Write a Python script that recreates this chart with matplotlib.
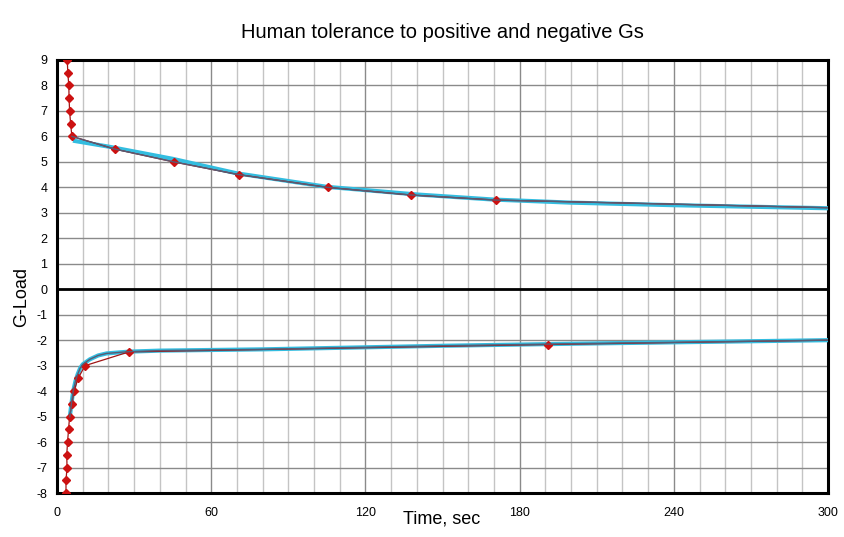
import numpy as np
import matplotlib
matplotlib.use('Agg')
import matplotlib.pyplot as plt
from matplotlib.ticker import MultipleLocator

plt.rcParams['font.family'] = ['Liberation Sans', 'DejaVu Sans']
plt.rcParams['axes.unicode_minus'] = False

# measured tolerance points (time in sec, G-load)
pos_t = [4.0, 4.2, 4.6, 4.7, 4.9, 5.3, 5.8, 22.6, 45.4, 70.7, 105.3, 137.6, 171.0, 300.0]
pos_g = [9.0, 8.5, 8.0, 7.5, 7.0, 6.5, 6.0, 5.5, 5.0, 4.5, 4.0, 3.7, 3.5, 3.2]
neg_t = [3.5, 3.5, 3.9, 3.8, 4.1, 4.5, 4.9, 5.8, 6.6, 8.2, 10.9, 28.0, 191.0, 300.0]
neg_g = [-8.0, -7.5, -7.0, -6.5, -6.0, -5.5, -5.0, -4.5, -4.0, -3.5, -3.0, -2.46, -2.17, -2.0]

# fitted curves (cyan)
fit_pos_t = [7, 20, 45, 70, 105, 140, 170, 200, 240, 300]
fit_pos_g = [5.82, 5.6, 5.12, 4.55, 4.02, 3.72, 3.52, 3.4, 3.3, 3.18]
fit_neg_t = [5, 5.6, 6.3, 7.2, 8.0, 9.0, 10.0, 12.8, 16, 19.3, 28, 40, 80, 150, 200, 250, 300]
fit_neg_g = [-5.0, -4.5, -4.0, -3.6, -3.35, -3.1, -2.95, -2.75, -2.6, -2.52, -2.45, -2.41, -2.36, -2.22, -2.14, -2.07, -2.0]

fig = plt.figure(figsize=(8.44, 5.37), dpi=100)
ax = fig.add_axes([57/844, 1-493/537, (828-57)/844, (493-60)/537])

red = '#cc1111'
ax.plot(fit_pos_t, fit_pos_g, color='#33bde0', lw=3, zorder=3)
ax.plot(fit_neg_t, fit_neg_g, color='#33bde0', lw=3, zorder=3)
ax.plot(pos_t, pos_g, color='#a01515', lw=0.9, marker='D', ms=3.6, mfc=red, mec=red,
        markevery=list(range(len(pos_t)-1)), zorder=4)
ax.plot(neg_t, neg_g, color='#a01515', lw=0.9, marker='D', ms=3.6, mfc=red, mec=red,
        markevery=list(range(len(neg_t)-1)), zorder=4)
ax.plot(pos_t[6:], pos_g[6:], color='#5a5a72', lw=1, zorder=4)
ax.plot(fit_neg_t, fit_neg_g, color='#5a5a72', lw=1, zorder=4)

ax.set_xlim(0, 300)
ax.set_ylim(-8, 9)
ax.xaxis.set_major_locator(MultipleLocator(60))
ax.xaxis.set_minor_locator(MultipleLocator(10))
ax.yaxis.set_major_locator(MultipleLocator(1))
ax.grid(which='minor', axis='x', color='#c4c4c4', lw=1)
ax.grid(which='major', axis='x', color='#8a8a8a', lw=1)
ax.grid(which='major', axis='y', color='#8a8a8a', lw=1)
ax.set_axisbelow(True)
ax.axhline(0, color='black', lw=2, zorder=2)

for s in ax.spines.values():
    s.set_linewidth(2.2)
ax.tick_params(which='both', length=0, labelsize=9)
ax.tick_params(axis='x', pad=10)
ax.tick_params(axis='y', pad=7)

fig.text(442/844, 1-33/537, 'Human tolerance to positive and negative Gs', ha='center', va='center', fontsize=14.5)
fig.text(442/844, 1-519/537, 'Time, sec', ha='center', va='center', fontsize=13)
fig.text(22/844, 1-297/537, 'G-Load', ha='center', va='center', rotation=90, fontsize=13)

plt.savefig('out.png', dpi=100)
